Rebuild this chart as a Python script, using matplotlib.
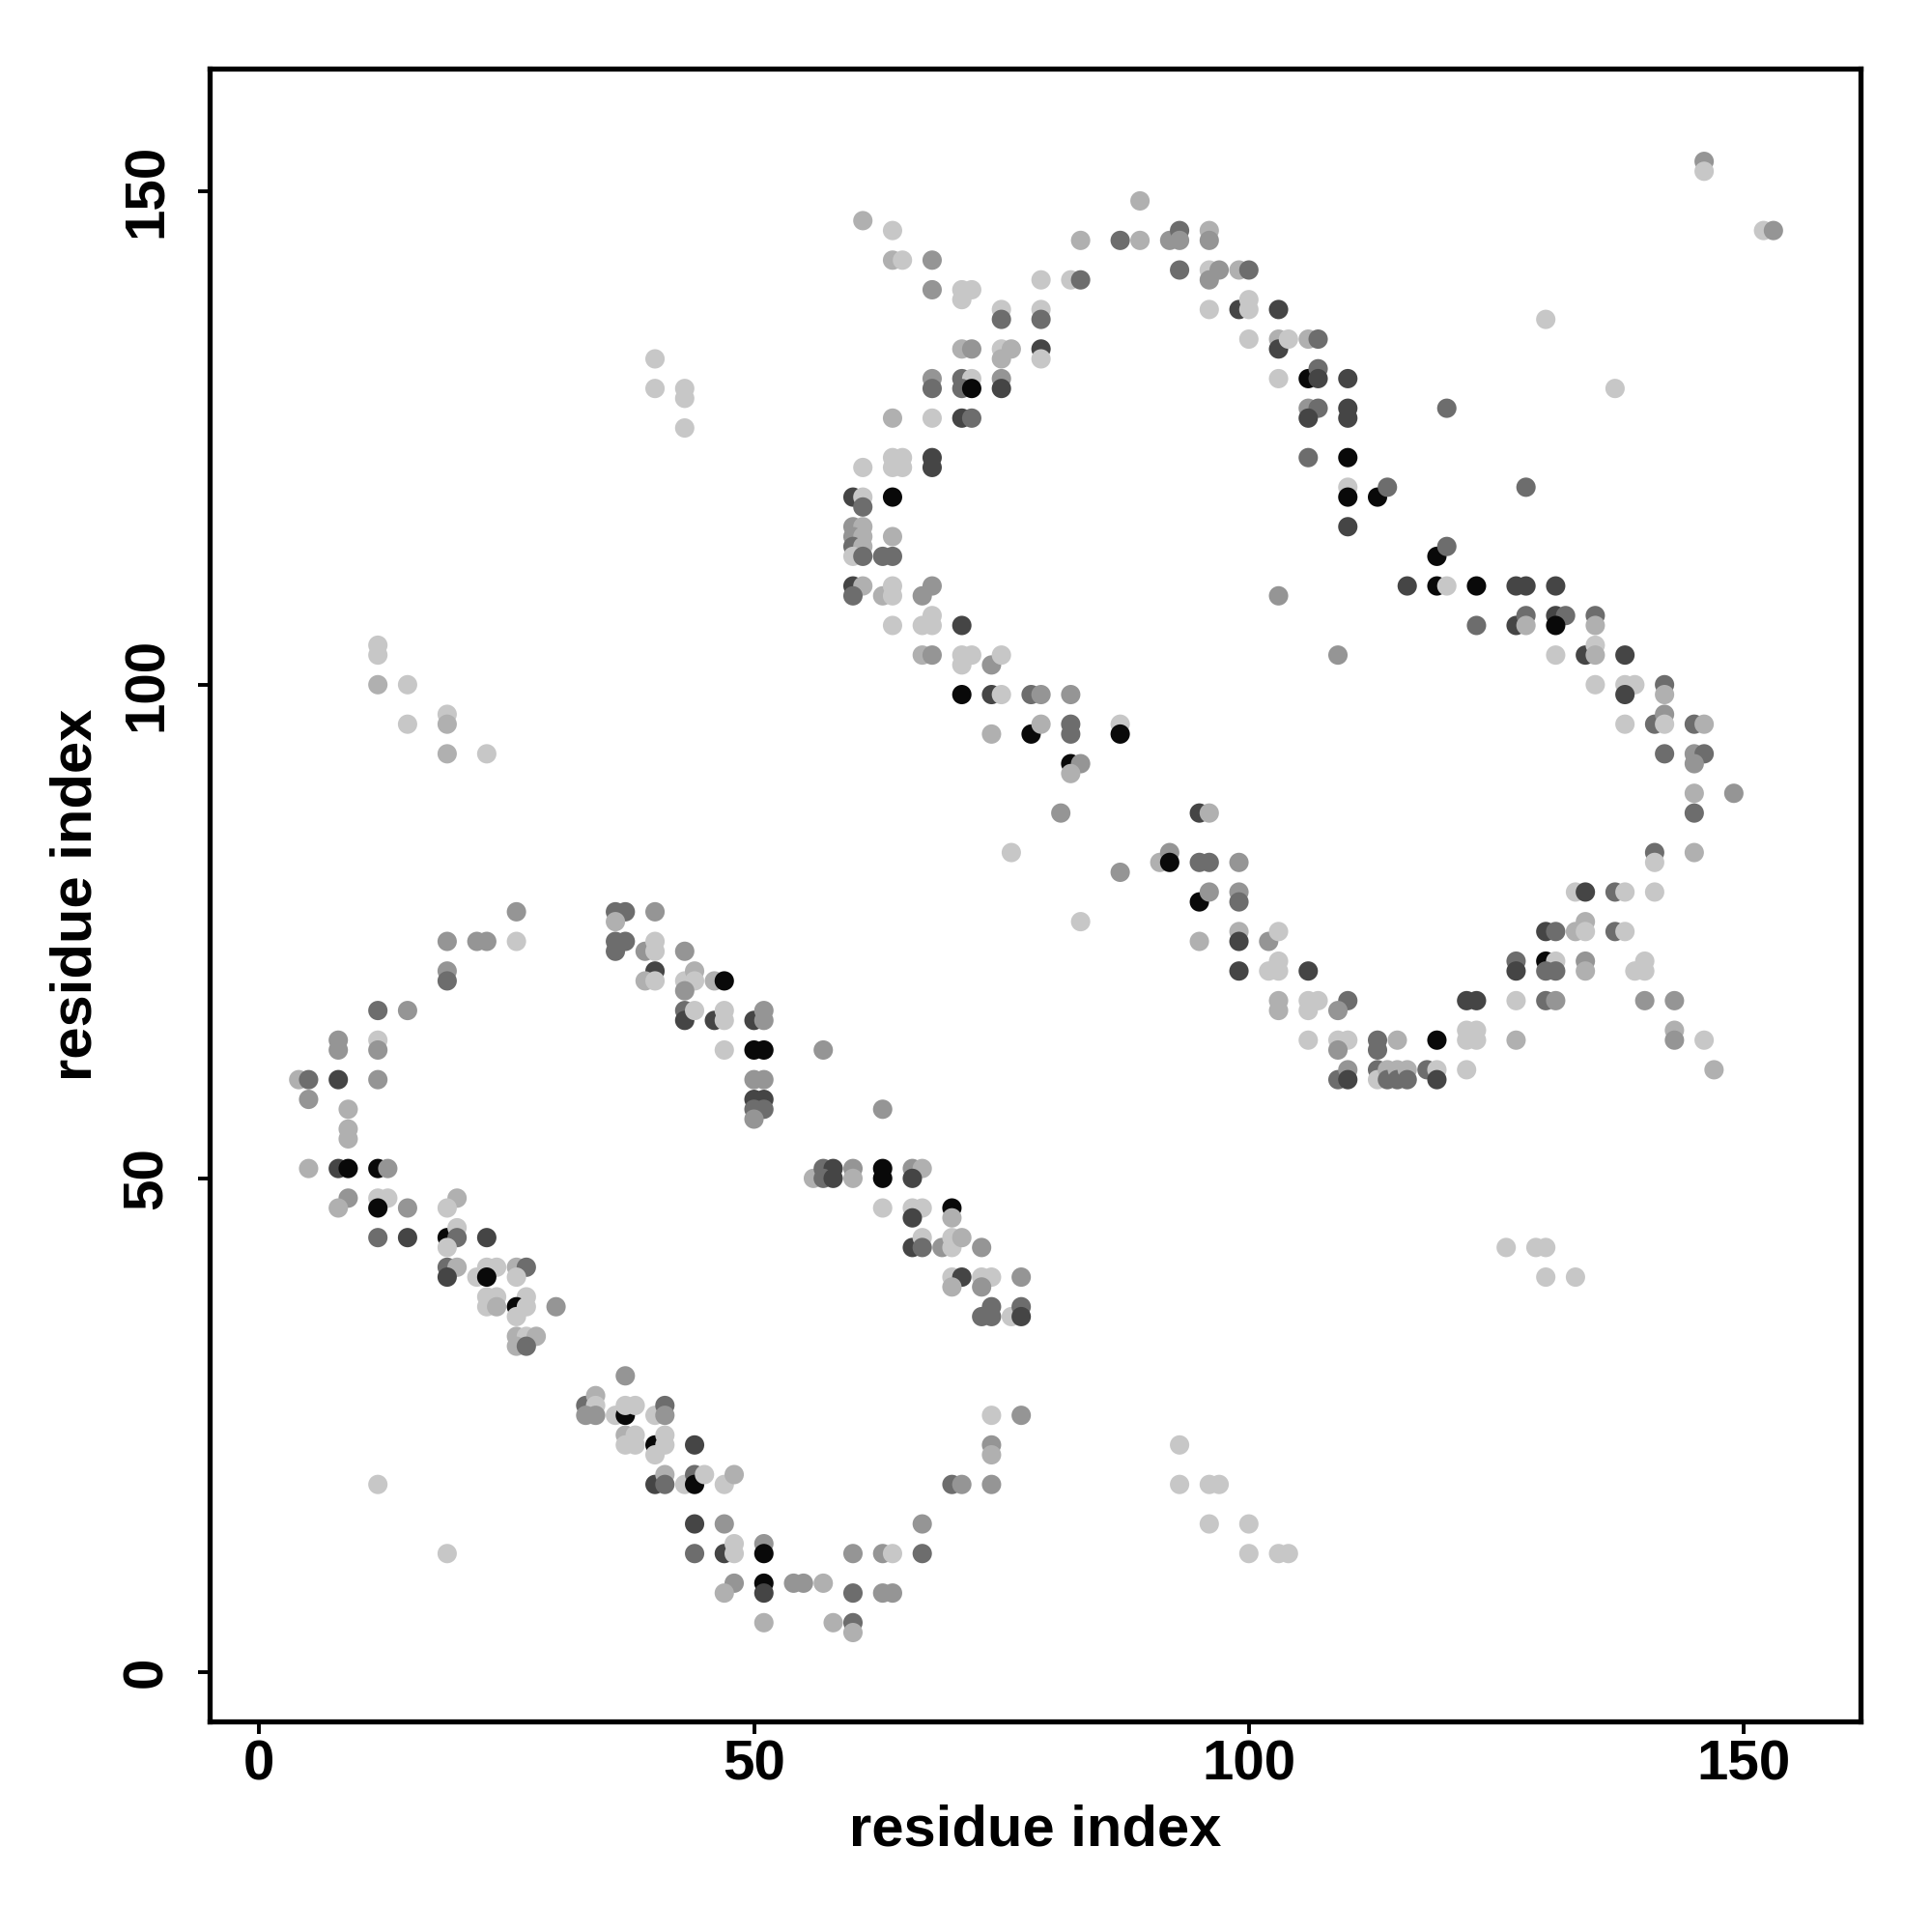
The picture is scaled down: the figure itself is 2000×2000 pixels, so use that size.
import numpy as np
import matplotlib
matplotlib.use("Agg")
from matplotlib import pyplot as plt
from matplotlib.colors import LinearSegmentedColormap

# contact strength codes -> score (0 = weak/light, 1 = strong/black)
levels = {"L": 0.0, "l": 0.12, "g": 0.25, "d": 0.45, "D": 0.65, "K": 0.95}

# (residue i, residue j, strength code)
contacts = [
    # lower-left helix pair
    (4, 60, "l"), (5, 60, "d"), (5, 58, "g"), (8, 64, "g"), (8, 63, "g"), (12, 64, "L"), (12, 63, "g"),
    (8, 60, "D"), (12, 60, "g"), (12, 67, "d"), (15, 67, "g"), (19, 74, "g"), (19, 71, "g"), (19, 70, "d"),
    (22, 74, "g"), (23, 74, "g"), (26, 74, "L"), (26, 77, "g"), (9, 57, "l"), (9, 55, "l"), (9, 54, "l"),
    (5, 51, "l"), (8, 51, "D"), (9, 51, "K"), (12, 51, "K"), (13, 51, "g"),
    (9, 48, "g"), (8, 47, "l"), (12, 48, "L"), (13, 48, "L"), (12, 47, "K"), (15, 47, "g"), (20, 48, "l"), (19, 47, "L"),
    (12, 44, "d"), (15, 44, "D"), (19, 44, "K"), (20, 45, "L"), (20, 44, "d"), (23, 44, "D"), (19, 43, "L"),
    (19, 41, "d"), (20, 41, "l"), (19, 40, "D"), (22, 40, "L"), (23, 41, "L"), (24, 41, "L"), (23, 40, "K"),
    (26, 41, "l"), (27, 41, "d"), (26, 40, "L"),
    (23, 38, "L"), (24, 38, "L"), (27, 38, "L"), (23, 37, "L"), (24, 37, "l"), (26, 37, "K"), (27, 37, "L"),
    (26, 36, "L"), (30, 37, "g"),
    (26, 34, "l"), (27, 34, "L"), (28, 34, "l"), (26, 33, "l"), (27, 33, "d"),
    (36, 77, "d"), (37, 77, "d"), (36, 76, "l"), (40, 77, "g"),
    (36, 74, "d"), (37, 74, "d"), (36, 73, "d"), (39, 73, "g"), (40, 74, "L"), (40, 73, "L"), (43, 73, "g"),
    (40, 71, "D"), (39, 70, "l"), (40, 70, "L"), (43, 70, "L"), (44, 71, "l"), (44, 70, "L"), (43, 69, "g"),
    (46, 70, "l"), (47, 70, "K"),
    (43, 67, "d"), (43, 66, "D"), (44, 67, "L"), (46, 66, "D"), (47, 67, "L"), (47, 66, "L"), (50, 66, "D"),
    (51, 67, "g"), (51, 66, "g"),
    (47, 63, "L"), (50, 63, "K"), (51, 63, "K"),
    (50, 60, "g"), (51, 60, "g"), (50, 58, "D"), (51, 58, "D"), (50, 57, "d"), (51, 57, "d"), (50, 56, "g"),
    (37, 30, "g"),
    (33, 27, "d"), (34, 28, "l"), (34, 27, "L"), (33, 26, "g"), (34, 26, "g"), (36, 26, "L"), (37, 26, "K"),
    (37, 27, "L"), (38, 27, "L"), (40, 26, "L"), (41, 27, "d"), (41, 26, "g"),
    (37, 24, "l"), (38, 24, "L"), (37, 23, "L"), (38, 23, "L"), (40, 23, "K"), (41, 24, "L"), (41, 23, "L"),
    (40, 22, "L"), (44, 23, "D"),
    (40, 19, "D"), (41, 20, "l"), (41, 19, "d"), (43, 19, "L"), (44, 20, "d"), (44, 19, "K"), (45, 20, "L"),
    (47, 19, "L"), (48, 20, "l"),
    (44, 15, "D"), (47, 15, "g"), (44, 12, "d"), (47, 12, "D"), (48, 13, "L"), (48, 12, "L"), (51, 13, "g"),
    (51, 12, "K"),
    (48, 9, "g"), (47, 8, "l"), (51, 9, "K"), (51, 8, "D"), (51, 5, "l"),
    (12, 19, "L"), (19, 12, "L"),
    (12, 104, "L"), (12, 103, "L"), (12, 100, "l"), (15, 100, "L"), (15, 96, "L"), (19, 97, "L"), (19, 96, "l"),
    (19, 93, "l"), (23, 93, "L"),
    (40, 133, "L"), (40, 130, "L"), (43, 130, "L"), (43, 129, "L"), (43, 126, "L"),
    # lower middle
    (73, 36, "d"), (74, 37, "d"), (74, 36, "d"), (76, 36, "L"), (77, 37, "d"), (77, 36, "D"),
    (74, 26, "L"), (77, 26, "g"), (74, 23, "g"), (74, 22, "l"), (70, 19, "d"), (71, 19, "g"), (74, 19, "g"),
    (67, 15, "g"),
    (60, 12, "g"), (63, 12, "g"), (64, 12, "L"), (67, 12, "d"), (54, 9, "g"), (55, 9, "g"), (57, 9, "l"),
    (60, 8, "d"), (63, 8, "g"), (64, 8, "g"), (58, 5, "l"), (60, 5, "d"), (60, 4, "l"),
    (93, 23, "L"), (93, 19, "L"), (96, 19, "L"), (97, 19, "L"), (96, 15, "L"), (100, 15, "L"), (100, 12, "L"),
    (103, 12, "L"), (104, 12, "L"),
    # centre
    (83, 76, "L"), (95, 78, "K"), (96, 79, "g"), (99, 79, "g"), (99, 78, "d"), (95, 74, "l"), (99, 75, "l"),
    (99, 74, "D"), (102, 74, "g"), (103, 75, "L"), (99, 71, "D"), (102, 71, "L"), (103, 72, "L"),
    (103, 71, "L"), (103, 68, "l"), (103, 67, "l"),
    (57, 63, "g"), (63, 57, "g"),
    (56, 50, "l"), (57, 51, "d"), (58, 51, "D"), (57, 50, "d"), (58, 50, "D"), (60, 51, "g"), (60, 50, "l"),
    (63, 51, "K"), (63, 50, "K"), (66, 51, "g"), (67, 51, "l"), (66, 50, "D"),
    (63, 47, "L"), (66, 47, "L"), (67, 47, "L"), (66, 46, "D"), (70, 47, "K"), (70, 46, "l"),
    (66, 43, "D"), (67, 44, "L"), (67, 43, "d"), (69, 43, "g"), (70, 44, "L"), (70, 43, "L"), (71, 44, "l"),
    (73, 43, "g"),
    (70, 40, "L"), (71, 40, "D"), (73, 40, "L"), (74, 40, "L"), (77, 40, "g"), (70, 39, "l"), (73, 39, "g"),
    # right helix pair, lower part
    (106, 71, "D"), (106, 68, "L"), (107, 68, "L"), (106, 67, "L"), (110, 68, "d"), (109, 67, "g"),
    (106, 64, "L"), (109, 64, "L"), (110, 64, "L"), (109, 63, "g"), (113, 64, "d"), (113, 63, "d"),
    (115, 64, "l"), (119, 64, "K"),
    (109, 60, "d"), (110, 61, "g"), (110, 60, "D"),
    (113, 61, "d"), (113, 60, "L"), (114, 61, "l"), (114, 60, "d"), (115, 61, "l"), (115, 60, "d"),
    (116, 61, "l"), (116, 60, "d"), (118, 61, "d"), (119, 61, "L"), (119, 60, "D"), (122, 61, "L"),
    (122, 68, "D"), (123, 68, "D"), (122, 65, "L"), (123, 65, "L"), (122, 64, "L"), (123, 64, "L"),
    (127, 72, "d"), (127, 71, "D"), (127, 68, "L"), (127, 64, "l"),
    (130, 75, "D"), (131, 75, "d"), (133, 75, "l"), (134, 76, "l"), (134, 75, "L"), (137, 75, "d"),
    (138, 75, "L"),
    (130, 72, "K"), (131, 72, "L"), (130, 71, "d"), (131, 71, "d"), (134, 72, "g"), (134, 71, "l"),
    (139, 71, "L"), (140, 72, "L"), (140, 71, "L"),
    (130, 68, "d"), (131, 68, "g"), (140, 68, "g"), (143, 68, "g"), (143, 65, "l"), (143, 64, "g"),
    (146, 64, "L"), (147, 61, "l"),
    (126, 43, "L"), (129, 43, "L"), (130, 43, "L"), (130, 40, "L"), (133, 40, "L"),
    # right helix pair, upper part
    (110, 116, "D"), (119, 113, "K"), (120, 114, "d"), (116, 110, "D"), (119, 110, "K"), (120, 110, "L"),
    (123, 110, "K"), (127, 110, "D"), (128, 110, "D"), (131, 110, "D"),
    (123, 106, "d"), (127, 106, "D"), (128, 107, "d"), (128, 106, "l"), (131, 107, "D"), (132, 107, "d"),
    (131, 106, "K"), (135, 107, "d"), (135, 106, "l"),
    (109, 103, "g"), (131, 103, "L"), (134, 103, "D"), (135, 104, "L"), (135, 103, "l"), (138, 103, "D"),
    (135, 100, "L"), (138, 100, "L"), (139, 100, "L"), (138, 99, "D"), (142, 100, "d"), (142, 99, "l"),
    (138, 96, "L"), (141, 96, "d"), (142, 97, "g"), (142, 96, "L"), (145, 96, "d"), (146, 96, "l"),
    (142, 93, "d"), (145, 93, "g"), (146, 93, "d"), (145, 92, "g"), (145, 89, "l"), (149, 89, "g"),
    (145, 87, "d"),
    (141, 83, "d"), (141, 82, "L"), (145, 83, "l"), (133, 79, "L"), (134, 79, "D"), (137, 79, "d"),
    (138, 79, "L"), (141, 79, "L"),
    # top right
    (146, 153, "g"), (146, 152, "L"), (152, 146, "L"), (153, 146, "g"), (130, 137, "L"), (137, 130, "L"),
    (120, 128, "d"), (128, 120, "d"),
    (103, 138, "D"), (103, 135, "l"), (103, 134, "D"), (104, 135, "L"), (106, 135, "l"), (107, 135, "d"),
    (103, 131, "L"), (106, 131, "K"), (107, 132, "d"), (107, 131, "D"), (110, 131, "D"),
    (106, 128, "g"), (107, 128, "d"), (106, 127, "D"), (110, 128, "D"), (110, 127, "D"), (106, 123, "d"),
    (110, 123, "K"),
    (110, 120, "L"), (110, 119, "K"), (113, 119, "K"), (114, 120, "d"),
    # top middle
    (61, 147, "l"), (64, 146, "L"), (64, 143, "l"), (65, 143, "L"), (68, 143, "g"), (68, 140, "g"),
    (71, 140, "L"), (72, 140, "L"), (71, 139, "L"),
    (75, 138, "L"), (75, 137, "d"), (79, 141, "L"), (79, 138, "L"), (79, 137, "d"), (82, 141, "L"),
    (83, 141, "d"), (83, 145, "l"), (87, 145, "d"), (89, 145, "l"), (89, 149, "l"),
    (92, 145, "g"), (93, 146, "d"), (93, 145, "g"), (96, 146, "l"), (96, 145, "g"), (93, 142, "d"),
    (96, 142, "L"), (97, 142, "g"), (96, 141, "g"), (99, 142, "l"), (100, 142, "d"),
    (96, 138, "L"), (99, 138, "D"), (100, 139, "L"), (100, 138, "L"), (100, 135, "L"),
    (71, 134, "l"), (72, 134, "g"), (75, 134, "L"), (76, 134, "l"), (75, 133, "l"), (79, 134, "D"),
    (79, 133, "L"),
    (68, 131, "g"), (68, 130, "d"), (71, 131, "d"), (72, 131, "L"), (71, 130, "d"), (72, 130, "K"),
    (75, 131, "g"), (75, 130, "D"),
    (64, 127, "l"), (68, 127, "L"), (71, 127, "D"), (72, 127, "d"),
    (61, 122, "L"), (64, 123, "L"), (65, 123, "L"), (64, 122, "L"), (65, 122, "L"), (68, 123, "D"),
    (68, 122, "D"),
    (60, 119, "D"), (61, 119, "L"), (61, 118, "d"), (64, 119, "K"),
    (60, 116, "g"), (61, 116, "l"), (60, 115, "g"), (61, 115, "l"), (60, 114, "d"), (61, 114, "l"),
    (60, 113, "L"), (61, 113, "d"), (64, 115, "l"), (63, 113, "d"), (64, 113, "d"),
    (60, 110, "D"), (61, 110, "l"), (60, 109, "d"), (63, 109, "l"), (64, 110, "L"), (64, 109, "L"),
    (67, 109, "g"), (68, 110, "g"),
    (64, 106, "L"), (67, 106, "L"), (68, 107, "L"), (68, 106, "L"), (71, 106, "D"),
    (67, 103, "l"), (68, 103, "g"), (71, 103, "L"), (72, 103, "L"), (71, 102, "L"), (74, 102, "g"),
    (75, 103, "L"),
    (71, 99, "K"), (74, 99, "D"), (75, 99, "L"), (78, 99, "d"), (79, 99, "g"), (82, 99, "g"),
    (74, 95, "l"), (78, 95, "K"), (79, 96, "l"), (82, 96, "d"), (82, 95, "d"), (87, 96, "L"), (87, 95, "K"),
    (82, 92, "K"), (83, 92, "g"), (82, 91, "l"), (81, 87, "g"), (95, 87, "D"), (96, 87, "l"), (76, 83, "L"),
    (87, 81, "g"), (91, 82, "l"), (92, 83, "g"), (92, 82, "K"), (95, 82, "d"), (96, 82, "d"), (99, 82, "g"),
    (103, 109, "g"),
]

res_i = np.array([c[0] for c in contacts])
res_j = np.array([c[1] for c in contacts])
score = np.array([levels[c[2]] for c in contacts])

plt.rcParams['font.family'] = ['Liberation Sans', 'DejaVu Sans']
plt.rcParams['font.weight'] = 'bold'

greys = LinearSegmentedColormap.from_list("contact", [(0.78, 0.78, 0.78), (0.0, 0.0, 0.0)])

fig = plt.figure(figsize=(10, 10), dpi=200)
ax = fig.add_axes([0.1085, 0.109, 0.8545, 0.8555])
ax.scatter(res_i, res_j, c=score, cmap=greys, vmin=0, vmax=1, s=52, linewidths=0)

ax.set_xlim(-5, 161.8)
ax.set_ylim(-5, 162.4)
ax.set_xticks([0, 50, 100, 150])
ax.set_yticks([0, 50, 100, 150])
for sp in ax.spines.values():
    sp.set_linewidth(1.9)
ax.tick_params(axis='both', length=4.5, width=1.4, labelsize=21)
ax.tick_params(axis='x', pad=2)
ax.tick_params(axis='y', pad=9, labelrotation=90)
for lab in ax.get_yticklabels():
    lab.set_va('center')
ax.set_xlabel('residue index', fontsize=21.5, fontweight='bold', labelpad=5)
ax.set_ylabel('residue index', fontsize=21.5, fontweight='bold', labelpad=7)

plt.savefig('out.png', dpi=200, facecolor='white')
